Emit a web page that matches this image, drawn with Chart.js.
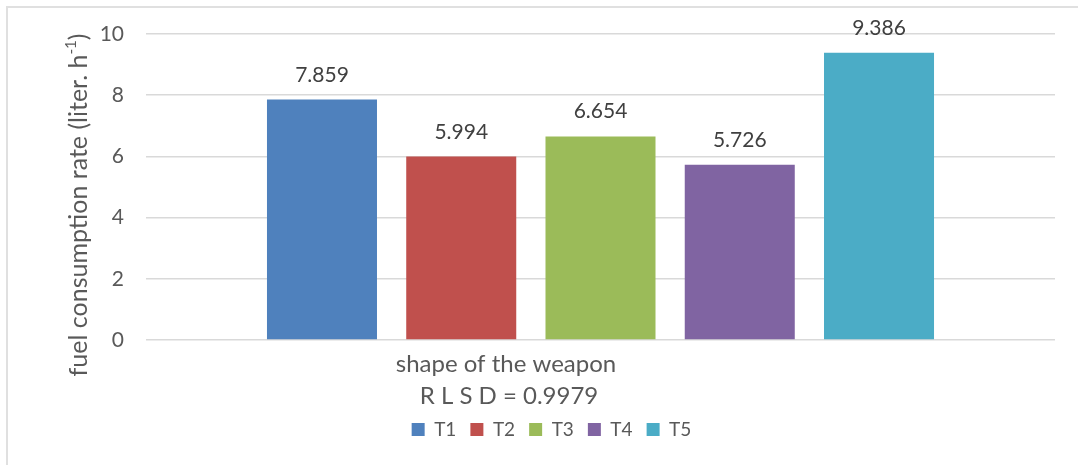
<!DOCTYPE html>
<html>
<head>
<meta charset="utf-8">
<script src="https://cdn.jsdelivr.net/npm/chart.js@4.4.1/dist/chart.umd.min.js"></script>
<style>
  html, body { margin: 0; padding: 0; background: #fff; overflow: hidden; }
  body { width: 1078px; height: 465px; position: relative; }
  #frame {
    position: absolute; left: 6px; top: 6px;
    width: 1088px; height: 457px;
    border-left: 2px solid #e0e0e0; border-top: 2px solid #e0e0e0;
  }
  #fuelChart { display: block; }
</style>
</head>
<body>
<div id="frame"><canvas id="fuelChart" width="1088" height="457"></canvas></div>
<script>
// treatments and their fuel consumption rate (liter per hour)
const categories = ["shape of the weapon"];
const treatments = ["T1", "T2", "T3", "T4", "T5"];
const fuelRates = [7.859, 5.994, 6.654, 5.726, 9.386];
const barColors = ["#4F81BD", "#C0504D", "#9BBB59", "#8064A2", "#4BACC6"];
const yTicks = [0, 2, 4, 6, 8, 10];

// y title is split so the exponent can be raised
const yTitleParts = ["fuel consumption rate (liter. h", "-1", ")"];
const xTitleLines = ["shape of the weapon", "R L S D = 0.9979"];

const FONT = "Lato, 'Open Sans', sans-serif";
const TEXT = "#595959";

// bar value labels above each bar
const valueLabels = {
    id: 'valueLabels',
    afterDatasetsDraw(chart) {
        const ctx = chart.ctx;
        ctx.save();
        ctx.font = "21px " + FONT;
        ctx.fillStyle = "#404040";
        ctx.textAlign = "center";
        ctx.textBaseline = "alphabetic";
        chart.data.datasets.forEach((ds, i) => {
            const meta = chart.getDatasetMeta(i);
            meta.data.forEach((bar, j) => {
                ctx.fillText(Number(ds.data[j]).toFixed(3), bar.x, bar.y - 18);
            });
        });
        ctx.restore();
    }
};

// axis titles placed where the workbook had them
const axisTitles = {
    id: 'axisTitles',
    afterDraw(chart) {
        const ctx = chart.ctx;
        const area = chart.chartArea;
        ctx.save();
        ctx.fillStyle = TEXT;
        ctx.textBaseline = "middle";

        // vertical title with superscript
        const base = "25px " + FONT, sup = "15px " + FONT;
        ctx.font = base;
        const w0 = ctx.measureText(yTitleParts[0]).width;
        const w2 = ctx.measureText(yTitleParts[2]).width;
        ctx.font = sup;
        const w1 = ctx.measureText(yTitleParts[1]).width;
        let x = -(w0 + w1 + w2) / 2;
        ctx.save();
        ctx.translate(71, 197);
        ctx.rotate(-Math.PI / 2);
        ctx.textAlign = "left";
        ctx.font = base;
        ctx.fillText(yTitleParts[0], x, 0);
        x += w0;
        ctx.font = sup;
        ctx.fillText(yTitleParts[1], x, -8);
        x += w1;
        ctx.font = base;
        ctx.fillText(yTitleParts[2], x, 0);
        ctx.restore();

        // horizontal title, two lines
        ctx.font = "24px " + FONT;
        ctx.textAlign = "center";
        const cx = area.left + 360;
        xTitleLines.forEach((line, k) => {
            ctx.fillText(line, cx + k * 3, area.bottom + 24 + k * 32);
        });
        ctx.restore();
    }
};

function initChart() {
    const ctx = document.getElementById('fuelChart').getContext('2d');
    return new Chart(ctx, {
        type: 'bar',
        data: {
            labels: categories,
            datasets: treatments.map((t, i) => ({
                label: t,
                data: [fuelRates[i]],
                backgroundColor: barColors[i],
                borderWidth: 0,
                categoryPercentage: 0.766,
                barPercentage: 0.79
            }))
        },
        options: {
            responsive: false,
            animation: false,
            layout: { padding: { left: 40, right: 41, top: 26, bottom: 16 } },
            plugins: {
                legend: {
                    position: 'bottom',
                    labels: {
                        boxWidth: 13,
                        boxHeight: 13,
                        padding: 14,
                        color: TEXT,
                        font: { family: FONT, size: 19 }
                    }
                },
                tooltip: { enabled: false }
            },
            scales: {
                x: {
                    grid: { display: false },
                    border: { display: false },
                    ticks: { display: false },
                    afterFit(scale) { scale.height = 66; }
                },
                y: {
                    min: 0,
                    max: 10,
                    afterBuildTicks(scale) { scale.ticks = yTicks.map(v => ({ value: v })); },
                    afterFit(scale) {
                        scale.width = 98;
                        // label gap should not push the plot down
                        scale.paddingTop = 0;
                        scale.paddingBottom = 0;
                    },
                    grid: { color: '#d9d9d9', lineWidth: 1.5, drawTicks: false },
                    border: { display: false },
                    ticks: {
                        padding: 22,
                        color: TEXT,
                        font: { family: FONT, size: 21 }
                    }
                }
            }
        },
        plugins: [valueLabels, axisTitles]
    });
}

initChart();
</script>
</body>
</html>
